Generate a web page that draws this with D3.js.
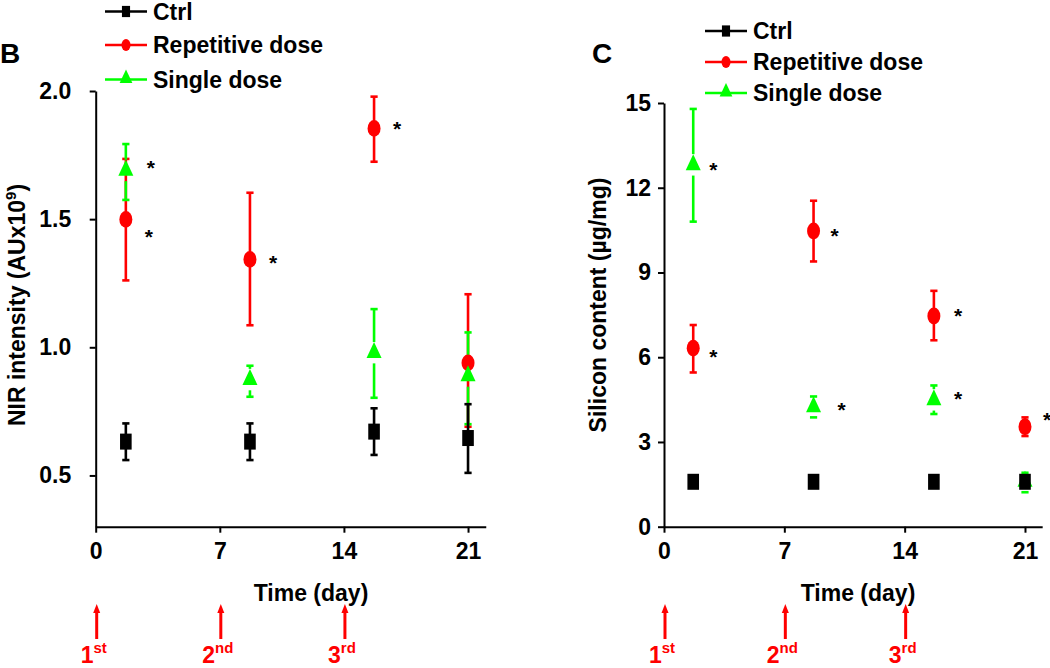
<!DOCTYPE html>
<html><head><meta charset="utf-8">
<script src="https://cdn.jsdelivr.net/npm/d3@7"></script>
<style>
body{margin:0;background:#fff}
svg{display:block}
text{font-family:'Liberation Sans',Arial,Helvetica,sans-serif;font-weight:bold}
</style>
</head><body>
<svg id="c" width="1050" height="668"></svg>
<script>
// ---------- data ----------
const days = [1.7, 8.7, 15.7, 21];
const dayTicks = [0, 7, 14, 21];
const doseDays = [0, 7, 14];
const doseNums = ["1", "2", "3"];
const doseSups = ["st", "nd", "rd"];
const seriesNames = ["Ctrl", "Repetitive dose", "Single dose"];

const nirTicks = [0.5, 1.0, 1.5, 2.0];
const nirCtrl   = [0.632, 0.632, 0.671, 0.646];
const nirCtrlLo = [0.560, 0.560, 0.580, 0.510];
const nirCtrlHi = [0.703, 0.703, 0.762, 0.778];
const nirRep    = [1.499, 1.343, 1.854, 0.939];
const nirRepLo  = [1.261, 1.086, 1.724, 0.690];
const nirRepHi  = [1.735, 1.603, 1.978, 1.207];
const nirSingle   = [1.690, 0.874, 0.979, 0.888];
const nirSingleLo = [1.575, 0.807, 0.803, 0.700];
const nirSingleHi = [1.793, 0.928, 1.149, 1.058];
const nirStarRep    = [true, true, true, false];
const nirStarSingle = [true, false, false, false];

const siTicks = [0, 3, 6, 9, 12, 15];
const siCtrl   = [1.59, 1.59, 1.59, 1.59];
const siCtrlLo = [1.45, 1.45, 1.45, 1.45];
const siCtrlHi = [1.73, 1.73, 1.73, 1.73];
const siRep    = [6.32, 10.47, 7.46, 3.54];
const siRepLo  = [5.46, 9.39, 6.60, 3.21];
const siRepHi  = [7.14, 11.54, 8.35, 3.87];
const siSingle   = [12.81, 4.24, 4.49, 1.60];
const siSingleLo = [10.80, 3.87, 3.99, 1.22];
const siSingleHi = [14.79, 4.61, 5.00, 1.91];
const siStarRep    = [true, true, true, true];
const siStarSingle = [true, true, true, false];

// ---------- styles ----------
const RED = "#ff0000", GREEN = "#00ff00", BLACK = "#000000";
const svg = d3.select("#c");

function marker(g, type, cx, cy, color, k) {
  if (type === "square") {
    g.append("rect").attr("x", cx - 5.8 * k).attr("y", cy - 8 * k)
      .attr("width", 11.6 * k).attr("height", 16 * k).attr("fill", color);
  } else if (type === "circle") {
    g.append("ellipse").attr("cx", cx).attr("cy", cy)
      .attr("rx", 6.5 * k).attr("ry", 8.4 * k).attr("fill", color);
  } else {
    g.append("path").attr("d",
      `M${cx},${cy - 10.7 * k}L${cx + 7.5 * k},${cy + 5.3 * k}L${cx - 7.5 * k},${cy + 5.3 * k}Z`)
      .attr("fill", color);
  }
}

function panel(cfg) {
  const g = svg.append("g");
  const x = d3.scaleLinear().domain([0, 22]).range(cfg.xr);
  const y = d3.scaleLinear().domain(cfg.yd).range([526.7, cfg.ytop]);

  // axes
  const ya = g.append("g").attr("transform", `translate(${cfg.xr[0]},0)`)
    .call(d3.axisLeft(y).tickValues(cfg.yticks).tickFormat(cfg.yfmt)
      .tickSize(6).tickSizeOuter(0).tickPadding(cfg.ypad));
  const xa = g.append("g").attr("transform", `translate(0,526.7)`)
    .call(d3.axisBottom(x).tickValues(dayTicks).tickSize(6).tickSizeOuter(0).tickPadding(10));
  [ya, xa].forEach(a => {
    a.select(".domain").attr("stroke-width", 2);
    a.selectAll(".tick line").attr("stroke-width", 2);
    a.selectAll("text").attr("font-size", 23).attr("fill", "#000")
      .style("font-family", "'Liberation Sans',Arial,sans-serif").style("font-weight", "bold");
  });

  // axis titles
  g.append("text").attr("x", cfg.xtitleX).attr("y", 601).attr("text-anchor", "middle")
    .attr("font-size", 23).text("Time (day)");
  const yt = g.append("text")
    .attr("transform", `translate(${cfg.ytitleX},305) rotate(-90)`)
    .attr("text-anchor", "middle").attr("font-size", 23);
  cfg.ytitle(yt);

  // panel letter
  g.append("text").attr("x", cfg.letterX).attr("y", 63).attr("font-size", 28).text(cfg.letter);

  // error bars
  const series = cfg.series;
  const gapOf = t => (t === "triangle" ? 10.7 : 0);
  [series[1], series[2], series[0]].forEach(s => {
    s.v.forEach((v, i) => {
      const cx = x(days[i]), cy = y(v), gap = gapOf(s.type);
      const yHi = y(s.hi[i]), yLo = y(s.lo[i]);
      const eb = g.append("g").attr("stroke", s.color).attr("stroke-width", 2.6);
      if (cy - gap > yHi) eb.append("line").attr("x1", cx).attr("x2", cx).attr("y1", cy - gap).attr("y2", yHi);
      eb.append("line").attr("x1", cx - 3.6).attr("x2", cx + 3.6).attr("y1", yHi).attr("y2", yHi);
      if (cy + gap < yLo) eb.append("line").attr("x1", cx).attr("x2", cx).attr("y1", cy + gap).attr("y2", yLo);
      eb.append("line").attr("x1", cx - 3.6).attr("x2", cx + 3.6).attr("y1", yLo).attr("y2", yLo);
    });
  });
  // markers
  [series[1], series[2], series[0]].forEach(s => {
    s.v.forEach((v, i) => marker(g, s.type, x(days[i]), y(v), s.color, 1));
  });
  // asterisks
  series.forEach(s => {
    if (!s.star) return;
    s.v.forEach((v, i) => {
      if (!s.star[i]) return;
      const n = (s.nudge && s.nudge[i]) || [0, 0];
      g.append("text").attr("x", x(days[i]) + 15 + n[0]).attr("y", y(v) + 12 + n[1])
        .attr("font-size", 21).text("*");
    });
  });

  // legend
  series.forEach((s, i) => {
    const ly = cfg.legY[i];
    g.append("line").attr("x1", cfg.legX).attr("x2", cfg.legX + 42).attr("y1", ly).attr("y2", ly)
      .attr("stroke", s.color).attr("stroke-width", 2.6);
    const k = s.type === "triangle" ? 0.85 : 0.7;
    marker(g, s.type, cfg.legX + 21, s.type === "triangle" ? ly - 1 : ly, s.color, k);
    g.append("text").attr("x", cfg.legX + 48).attr("y", ly + 8.3).attr("font-size", 23).text(seriesNames[i]);
  });

  // dose arrows
  doseDays.forEach((d, i) => {
    const ax = x(d) + 1;
    g.append("line").attr("x1", ax).attr("x2", ax).attr("y1", 639).attr("y2", 611)
      .attr("stroke", RED).attr("stroke-width", 3);
    g.append("path").attr("d", `M${ax},604L${ax + 3.5},613L${ax - 3.5},613Z`).attr("fill", RED);
    const t = g.append("text").attr("x", ax - 3).attr("y", 663).attr("text-anchor", "middle")
      .attr("fill", RED).attr("font-size", 23);
    t.append("tspan").text(doseNums[i]);
    t.append("tspan").attr("font-size", 15).attr("dy", -10).text(doseSups[i]);
  });
}

panel({
  xr: [95.7, 95.7 + 22 * 17.73], yd: [0.3, 2.0], ytop: 91,
  yticks: nirTicks, yfmt: d3.format(".1f"), ypad: 18.5,
  xtitleX: 311, ytitleX: 25, letter: "B", letterX: 0,
  legX: 105, legY: [11.5, 45, 79.5],
  ytitle: t => {
    t.append("tspan").text("NIR intensity (AUx10");
    t.append("tspan").attr("font-size", 15).attr("dy", -9).text("9");
    t.append("tspan").attr("dy", 9).text(")");
  },
  series: [
    { type: "square", color: BLACK, v: nirCtrl, lo: nirCtrlLo, hi: nirCtrlHi },
    { type: "circle", color: RED, v: nirRep, lo: nirRepLo, hi: nirRepHi, star: nirStarRep,
      nudge: [[4, 13], [4, -1], [4, -4], [0, 0]] },
    { type: "triangle", color: GREEN, v: nirSingle, lo: nirSingleLo, hi: nirSingleHi, star: nirStarSingle,
      nudge: [[6, -7], [0, 0], [0, 0], [0, 0]] }
  ]
});

panel({
  xr: [664, 664 + 22 * 17.19], yd: [0, 15], ytop: 103,
  yticks: siTicks, yfmt: d3.format("d"), ypad: 7,
  xtitleX: 858, ytitleX: 606, letter: "C", letterX: 592,
  legX: 705, legY: [31, 62, 93],
  ytitle: t => t.text("Silicon content (\u00b5g/mg)"),
  series: [
    { type: "square", color: BLACK, v: siCtrl, lo: siCtrlLo, hi: siCtrlHi },
    { type: "circle", color: RED, v: siRep, lo: siRepLo, hi: siRepHi, star: siStarRep,
      nudge: [[1, 4], [2, 0], [5, -5], [3, -12]] },
    { type: "triangle", color: GREEN, v: siSingle, lo: siSingleLo, hi: siSingleHi, star: siStarSingle,
      nudge: [[1, 0], [9, -2], [5, -6], [0, 0]] }
  ]
});
</script>
</body></html>
